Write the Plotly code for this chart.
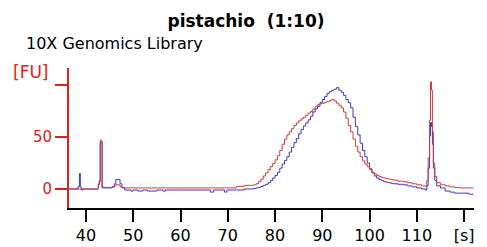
import plotly.graph_objects as go

# time [s]
t_left = [36.0, 38.3, 38.6, 38.8, 39.0, 39.3, 42.3, 42.6, 42.8, 43.0, 43.2, 43.4, 43.7,
          45.5, 46.0, 46.3, 46.8, 47.2, 47.6, 48.2, 49.5, 50.0, 51.0, 52.0, 53.0, 55.0,
          56.3, 56.8, 58.0, 60.0, 65.0, 66.3, 67.0, 68.0, 69.3, 69.8, 70.5, 71.8, 73.5]
t_peak = [75.0, 75.5, 76.0, 76.5, 77.0, 77.5, 78.0, 78.5, 79.0, 79.5, 80.0, 80.5, 81.0,
          81.5, 82.0, 82.5, 83.0, 83.5, 84.0, 84.5, 85.0, 85.5, 86.0, 86.5, 87.0, 87.5,
          88.0, 88.5, 89.0, 89.5, 90.0, 90.5, 91.0, 91.5, 92.0, 92.5, 93.0, 93.5, 94.0,
          94.5, 95.0, 95.5, 96.0, 96.5, 97.0, 97.5, 98.0, 98.5, 99.0, 99.5, 100.0, 100.5,
          101.0, 101.5, 102.0, 102.5, 103.0, 103.5, 104.0, 104.5, 105.0]
t_right = [106.0, 107.0, 108.0, 109.0, 110.0, 111.0, 111.8, 112.1, 112.4, 112.7, 112.9,
           113.1, 113.3, 113.5, 113.8, 114.2, 115.0, 116.0, 117.0, 118.0, 119.0, 121.0, 122.0]
time_s = t_left + t_peak + t_right

# fluorescence [FU], sample 1 (blue)
blue_left = [0, 2, 15, 2, -1, 0, 0, 4, 7, 44, 46, 1, 1,
             2, 5, 9, 9, 5, 1, -1, -2, -1, -2, -1, -2, -1,
             -2, -1, -1, -1, -1, -3, -1, -1, -3, -1, -1, -1, 0]
blue_peak = [0, 0.5, 1, 1.5, 2.5, 3.5, 4.5, 6, 8, 10.5, 13, 16, 20,
             24, 27.5, 31, 35.5, 40, 44.5, 48.5, 53, 57, 60.5, 63.5, 66.5, 70,
             74, 77, 79.5, 83, 86, 89, 92, 93.5, 95, 96, 97.5, 95, 93,
             90, 86, 83, 78, 69, 60, 52, 44, 37, 31, 25, 19.5, 15.5,
             12.5, 10.5, 9, 8, 7, 6.5, 6, 5.5, 5]
blue_right = [4.5, 4, 3, 2, 1, 0, -1, 3, 20, 51, 64,
              60, 43, 20, 8, 3, 1, -2, -3, -4, -4, -5, -5]
blue_fu = blue_left + blue_peak + blue_right

# fluorescence [FU], sample 2 (red)
red_left = [0, 0, 0, 0, 0, 0, 0, 5, 8, 47, 45, 2, 1.5,
            2, 3, 4, 4, 2, 1.5, 1, 1, 1, 1, 1, 1, 1,
            1, 1, 1, 1, 1, 1, 1, 1, 1, 1, 1, 2.5, 3.5]
red_peak = [3.5, 4, 5, 7, 9.5, 12.5, 15.5, 18.5, 21.5, 24.5, 28, 32, 37,
            43, 48, 52, 55, 58, 61, 63.5, 65.5, 67.5, 69, 71, 73, 74.5,
            77, 79.5, 81, 82, 82.5, 83.5, 84, 85, 86, 84.5, 82.5, 80.5, 78,
            74, 68, 61, 55, 48, 41, 35.5, 31, 27, 24, 21.5, 18.5, 16,
            14.5, 13, 12, 11, 10.5, 10, 9.5, 9, 8.5]
red_right = [7.5, 7, 6, 5, 4, 3, 2.5, 8, 30, 66, 103,
             95, 55, 25, 12, 6, 4, 3, 2, 1.5, 1, 1, 1]
red_fu = red_left + red_peak + red_right

x_ticks = [40, 50, 60, 70, 80, 90, 100, 110, 120]
x_ticktext = ["40", "50", "60", "70", "80", "90", "100", "110", "[s]"]
y_ticks = [0, 50, 100]
y_ticktext = ["0", "50", ""]

FONT = "DejaVu Sans"
AXIS_RED = "#e02020"

# the page body adds an 8px offset; figure is sized to fit the window
W, H = 479, 239
L, R, T, B = 61, 13, 60, 39
PW, PH = W - L - R, H - T - B

fig = go.Figure()
fig.add_trace(go.Scatter(x=time_s, y=blue_fu, mode="lines", line_shape="hv",
                         line=dict(color="#3a3abf", width=1), showlegend=False))
fig.add_trace(go.Scatter(x=time_s, y=red_fu, mode="lines", line_shape="hv",
                         line=dict(color="#d03c3c", width=1), showlegend=False))

fig.update_layout(
    width=W, height=H,
    margin=dict(l=L, r=R, t=T, b=B, pad=0, autoexpand=False),
    paper_bgcolor="white", plot_bgcolor="white",
    font=dict(family=FONT, size=16, color="black"),
    title=dict(text="<b>pistachio  (1:10)</b>", x=238 / W, xref="container", xanchor="center",
               y=1 - 13 / H, yref="container", yanchor="middle",
               font=dict(family=FONT, size=17, color="black")),
    xaxis=dict(range=[36.4, 122.1], tickvals=x_ticks, ticktext=x_ticktext, automargin=False,
               showgrid=False, zeroline=False, showline=True, linecolor="black", linewidth=2,
               ticks="outside", ticklen=12, tickwidth=2, tickcolor="black",
               tickfont=dict(family=FONT, size=16, color="black")),
    yaxis=dict(range=[-18.3, 116.35], tickvals=y_ticks, ticktext=y_ticktext, automargin=False,
               showgrid=False, zeroline=False, showline=True, linecolor=AXIS_RED, linewidth=2,
               ticks="outside", ticklen=12, tickwidth=2, tickcolor=AXIS_RED,
               tickfont=dict(family=FONT, size=15, color=AXIS_RED)),
    annotations=[
        dict(text="10X Genomics Library", xref="paper", yref="paper",
             x=(24 - 8 - L) / PW, y=(T + PH - 35) / PH, xanchor="left", yanchor="middle",
             showarrow=False, font=dict(family=FONT, size=16, color="black")),
        dict(text="[FU]", xref="paper", yref="paper",
             x=(11 - 8 - L) / PW, y=(T + PH - 64) / PH, xanchor="left", yanchor="middle",
             showarrow=False, font=dict(family=FONT, size=17, color=AXIS_RED)),
    ],
)

fig.write_html("out.html")
